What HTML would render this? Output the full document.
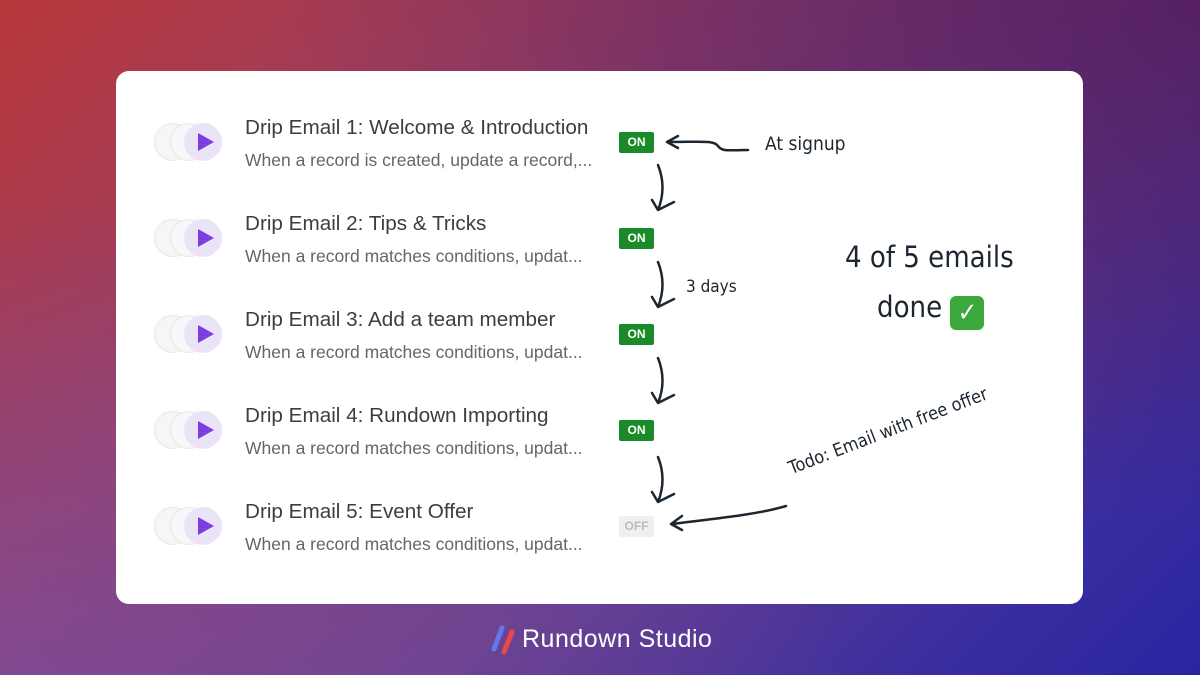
<!DOCTYPE html>
<html><head><meta charset="utf-8"><style>
*{margin:0;padding:0;box-sizing:border-box}
body{width:1200px;height:675px;overflow:hidden;position:relative;font-family:"Liberation Sans",sans-serif;
background:linear-gradient(135deg,#b8373a 0%,#9a3f63 30%,#6a3f8a 60%,#3a2ea0 85%,#2a24a0 100%);}
.ov{position:absolute;inset:0;background:radial-gradient(ellipse at 100% 0%,rgba(80,20,80,.7),transparent 55%),radial-gradient(ellipse at 0% 100%,rgba(120,80,170,.6),transparent 50%)}
.card{position:absolute;left:116px;top:71px;width:967px;height:533px;background:#fff;border-radius:13px}
.row{position:absolute;left:0;width:600px}
.ic{position:absolute;left:38px;width:38px;height:38px;border-radius:50%;background:#f6f6f8;border:1.5px solid #e6e6ea}
.ic2{left:54px;background:#f8f8fa}
.ic3{position:absolute;left:68px;width:38px;height:38px;border-radius:50%;background:#ebe3f8}
.ic3:after{content:"";position:absolute;left:14px;top:10px;border-left:16px solid #7b3fe0;border-top:9px solid transparent;border-bottom:9px solid transparent}
.t{position:absolute;left:129px;font-size:20.7px;color:#3d3d3d;white-space:nowrap}
.s{position:absolute;left:129px;font-size:17.5px;color:#666;white-space:nowrap}
.b{position:absolute;left:503px;width:35px;height:21px;border-radius:2px;background:#1a8a2a;color:#fff;font-size:12px;font-weight:bold;text-align:center;line-height:21px}
.off{background:#f0f0f2;color:#bbb}
.h{position:absolute;font-family:"DejaVu Sans Condensed","DejaVu Sans",sans-serif;color:#1c2630;white-space:nowrap}
.foot{position:absolute;left:522px;top:625px;color:#fff;font-size:25px;font-weight:500;letter-spacing:.5px}
</style></head><body><div class="ov"></div>
<div class="card">
<div class="row" style="top:52px"><div class="ic" style="top:0"></div><div class="ic ic2" style="top:0"></div><div class="ic3" style="top:0"></div><div class="t" style="top:-7px">Drip Email 1: Welcome &amp; Introduction</div><div class="s" style="top:27px">When a record is created, update a record,...</div><div class="b" style="top:9px">ON</div></div>
<div class="row" style="top:148px"><div class="ic" style="top:0"></div><div class="ic ic2" style="top:0"></div><div class="ic3" style="top:0"></div><div class="t" style="top:-7px">Drip Email 2: Tips &amp; Tricks</div><div class="s" style="top:27px">When a record matches conditions, updat...</div><div class="b" style="top:9px">ON</div></div>
<div class="row" style="top:244px"><div class="ic" style="top:0"></div><div class="ic ic2" style="top:0"></div><div class="ic3" style="top:0"></div><div class="t" style="top:-7px">Drip Email 3: Add a team member</div><div class="s" style="top:27px">When a record matches conditions, updat...</div><div class="b" style="top:9px">ON</div></div>
<div class="row" style="top:340px"><div class="ic" style="top:0"></div><div class="ic ic2" style="top:0"></div><div class="ic3" style="top:0"></div><div class="t" style="top:-7px">Drip Email 4: Rundown Importing</div><div class="s" style="top:27px">When a record matches conditions, updat...</div><div class="b" style="top:9px">ON</div></div>
<div class="row" style="top:436px"><div class="ic" style="top:0"></div><div class="ic ic2" style="top:0"></div><div class="ic3" style="top:0"></div><div class="t" style="top:-7px">Drip Email 5: Event Offer</div><div class="s" style="top:27px">When a record matches conditions, updat...</div><div class="b off" style="top:9px">OFF</div></div>
</div>
<svg style="position:absolute;left:0;top:0" width="1200" height="675" fill="none" stroke="#1c2630" stroke-width="2.5" stroke-linecap="round" stroke-linejoin="round">
<path d="M748 150 C730 150 722 152 718 146 C714 140 700 142 668 142"/><path d="M678 136 L667 142 L678 148"/>
<path d="M658 165 C664 180 664 195 658 210 M652 200 L658 210 L674 202"/>
<path d="M658 262 C664 277 664 292 658 307 M652 297 L658 307 L674 299"/>
<path d="M658 358 C664 373 664 388 658 403 M652 393 L658 403 L674 395"/>
<path d="M658 457 C664 472 664 487 658 502 M652 492 L658 502 L674 494"/>
<path d="M786 506 C760 514 720 518 672 524 M682 516 L671 524 L682 530"/>
</svg>
<div class="h" style="left:765px;top:133px;font-size:19px">At signup</div>
<div class="h" style="left:686px;top:277px;font-size:17px">3 days</div>
<div class="h" style="left:845px;top:240px;font-size:29px">4 of 5 emails</div>
<div class="h" style="left:877px;top:290px;font-size:29px">done <span style="display:inline-block;width:34px;height:34px;background:#3aa83a;border-radius:6px;color:#fff;text-align:center;line-height:34px;font-size:26px;vertical-align:-4px">✓</span></div>
<div class="h" style="left:793px;top:458px;font-size:18px;transform:rotate(-21deg);transform-origin:0 100%">Todo: Email with free offer</div>
<svg style="position:absolute;left:488px;top:625px" width="30" height="30"><path d="M6 24 L14 3" stroke="#6677ee" stroke-width="5" stroke-linecap="round"/><path d="M16 27 L24 7" stroke="#e84a4a" stroke-width="5" stroke-linecap="round"/></svg>
<div class="foot">Rundown Studio</div>
</body></html>
